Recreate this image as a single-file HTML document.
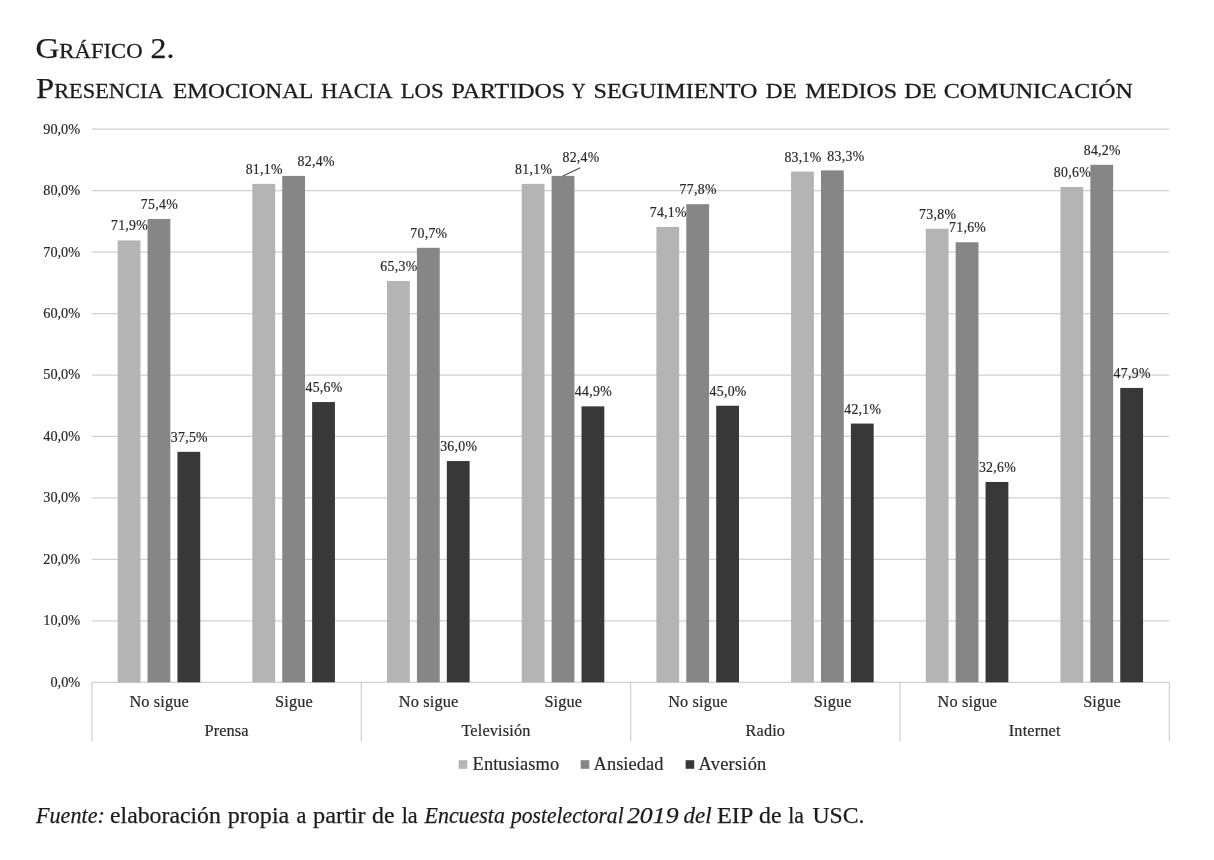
<!DOCTYPE html>
<html lang="es"><head><meta charset="utf-8"><title>Gráfico 2</title>
<style>
html,body{margin:0;padding:0;background:#fff;}
body{width:1214px;height:860px;overflow:hidden;}
svg{display:block;}
text{font-family:"Liberation Serif","Times New Roman",serif;}
.ax,.dl,.cat,.leg{stroke:#2a2a2a;stroke-width:0.2px;}
.ax{font-size:14.30px;fill:#2a2a2a;text-anchor:end;}
.dl{font-size:13.80px;fill:#2a2a2a;text-anchor:middle;letter-spacing:0.3px;}
.cat{font-size:16.30px;fill:#2a2a2a;text-anchor:middle;letter-spacing:0.15px;}
.leg{font-size:18.40px;fill:#2a2a2a;}
.ttl{fill:#1c1c1c;stroke:#1c1c1c;stroke-width:0.25px;}
.sc{font-size:20.0px;stroke:#1c1c1c;stroke-width:0.28px;}
</style></head><body>
<svg width="1214" height="860" viewBox="0 0 1214 860">
<rect width="1214" height="860" fill="#ffffff"/>
<text class="ttl" id="t1a" x="35.44" y="57.70" font-size="29.20" textLength="107.21" lengthAdjust="spacingAndGlyphs">G<tspan class="sc">RÁFICO</tspan></text>
<text class="ttl" id="t1b" x="150.63" y="57.70" font-size="29.20" textLength="23.81" lengthAdjust="spacingAndGlyphs">2.</text>
<text class="ttl" id="t2a" x="36.05" y="97.60" font-size="29.20" textLength="127.48" lengthAdjust="spacingAndGlyphs">P<tspan class="sc">RESENCIA</tspan></text>
<text class="ttl" id="t2b" x="172.99" y="97.60" font-size="29.20" textLength="140.44" lengthAdjust="spacingAndGlyphs"><tspan class="sc">EMOCIONAL</tspan></text>
<text class="ttl" id="t2c" x="321.17" y="97.60" font-size="29.20" textLength="71.24" lengthAdjust="spacingAndGlyphs"><tspan class="sc">HACIA</tspan></text>
<text class="ttl" id="t2d" x="400.68" y="97.60" font-size="29.20" textLength="42.98" lengthAdjust="spacingAndGlyphs"><tspan class="sc">LOS</tspan></text>
<text class="ttl" id="t2e" x="451.62" y="97.60" font-size="29.20" textLength="113.51" lengthAdjust="spacingAndGlyphs"><tspan class="sc">PARTIDOS</tspan></text>
<text class="ttl" id="t2f" x="571.89" y="97.60" font-size="29.20" textLength="13.60" lengthAdjust="spacingAndGlyphs"><tspan class="sc">Y</tspan></text>
<text class="ttl" id="t2g" x="593.52" y="97.60" font-size="29.20" textLength="163.85" lengthAdjust="spacingAndGlyphs"><tspan class="sc">SEGUIMIENTO</tspan></text>
<text class="ttl" id="t2h" x="765.84" y="97.60" font-size="29.20" textLength="30.96" lengthAdjust="spacingAndGlyphs"><tspan class="sc">DE</tspan></text>
<text class="ttl" id="t2i" x="805.22" y="97.60" font-size="29.20" textLength="91.80" lengthAdjust="spacingAndGlyphs"><tspan class="sc">MEDIOS</tspan></text>
<text class="ttl" id="t2j" x="904.39" y="97.60" font-size="29.20" textLength="32.25" lengthAdjust="spacingAndGlyphs"><tspan class="sc">DE</tspan></text>
<text class="ttl" id="t2k" x="943.88" y="97.60" font-size="29.20" textLength="188.99" lengthAdjust="spacingAndGlyphs"><tspan class="sc">COMUNICACIÓN</tspan></text>
<text class="ttl" id="c01" x="36.04" y="823.30" font-size="23.00" font-style="italic" textLength="68.80" lengthAdjust="spacingAndGlyphs">Fuente:</text>
<text class="ttl" id="c02" x="110.06" y="823.30" font-size="23.00" textLength="110.77" lengthAdjust="spacingAndGlyphs">elaboración</text>
<text class="ttl" id="c03" x="227.77" y="823.30" font-size="23.00" textLength="61.49" lengthAdjust="spacingAndGlyphs">propia</text>
<text class="ttl" id="c04" x="296.40" y="823.30" font-size="23.00" textLength="9.91" lengthAdjust="spacingAndGlyphs">a</text>
<text class="ttl" id="c05" x="312.97" y="823.30" font-size="23.00" textLength="52.67" lengthAdjust="spacingAndGlyphs">partir</text>
<text class="ttl" id="c06" x="372.02" y="823.30" font-size="23.00" textLength="22.52" lengthAdjust="spacingAndGlyphs">de</text>
<text class="ttl" id="c07" x="401.66" y="823.30" font-size="23.00" textLength="16.09" lengthAdjust="spacingAndGlyphs">la</text>
<text class="ttl" id="c08" x="424.58" y="823.30" font-size="23.00" font-style="italic" textLength="80.26" lengthAdjust="spacingAndGlyphs">Encuesta</text>
<text class="ttl" id="c09" x="511.06" y="823.30" font-size="23.00" font-style="italic" textLength="112.60" lengthAdjust="spacingAndGlyphs">postelectoral</text>
<text class="ttl" id="c10" x="626.97" y="823.30" font-size="23.00" font-style="italic" textLength="51.58" lengthAdjust="spacingAndGlyphs">2019</text>
<text class="ttl" id="c11" x="683.50" y="823.30" font-size="23.00" font-style="italic" textLength="28.20" lengthAdjust="spacingAndGlyphs">del</text>
<text class="ttl" id="c12" x="716.90" y="823.30" font-size="23.00" textLength="36.51" lengthAdjust="spacingAndGlyphs">EIP</text>
<text class="ttl" id="c13" x="759.13" y="823.30" font-size="23.00" textLength="22.50" lengthAdjust="spacingAndGlyphs">de</text>
<text class="ttl" id="c14" x="788.26" y="823.30" font-size="23.00" textLength="15.69" lengthAdjust="spacingAndGlyphs">la</text>
<text class="ttl" id="c15" x="812.43" y="823.30" font-size="23.00" textLength="52.05" lengthAdjust="spacingAndGlyphs">USC.</text>
<g stroke="#d0d0d0" stroke-width="1.25" fill="none">
<line x1="91.9" y1="682.30" x2="1169.4" y2="682.30"/>
<line x1="91.9" y1="620.84" x2="1169.4" y2="620.84"/>
<line x1="91.9" y1="559.39" x2="1169.4" y2="559.39"/>
<line x1="91.9" y1="497.93" x2="1169.4" y2="497.93"/>
<line x1="91.9" y1="436.48" x2="1169.4" y2="436.48"/>
<line x1="91.9" y1="375.02" x2="1169.4" y2="375.02"/>
<line x1="91.9" y1="313.57" x2="1169.4" y2="313.57"/>
<line x1="91.9" y1="252.11" x2="1169.4" y2="252.11"/>
<line x1="91.9" y1="190.66" x2="1169.4" y2="190.66"/>
<line x1="91.9" y1="129.20" x2="1169.4" y2="129.20"/>
<line x1="91.90" y1="682.30" x2="91.90" y2="741.30"/>
<line x1="361.27" y1="682.30" x2="361.27" y2="741.30"/>
<line x1="630.65" y1="682.30" x2="630.65" y2="741.30"/>
<line x1="900.02" y1="682.30" x2="900.02" y2="741.30"/>
<line x1="1169.40" y1="682.30" x2="1169.40" y2="741.30"/>
</g>
<text class="ax" x="80.2" y="686.75">0,0%</text>
<text class="ax" x="80.2" y="625.29">10,0%</text>
<text class="ax" x="80.2" y="563.84">20,0%</text>
<text class="ax" x="80.2" y="502.38">30,0%</text>
<text class="ax" x="80.2" y="440.93">40,0%</text>
<text class="ax" x="80.2" y="379.47">50,0%</text>
<text class="ax" x="80.2" y="318.02">60,0%</text>
<text class="ax" x="80.2" y="256.56">70,0%</text>
<text class="ax" x="80.2" y="195.11">80,0%</text>
<text class="ax" x="80.2" y="133.65">90,0%</text>
<rect x="117.64" y="240.43" width="22.80" height="441.87" fill="#b4b4b4"/>
<rect x="147.54" y="218.93" width="22.80" height="463.37" fill="#868686"/>
<rect x="177.44" y="451.84" width="22.80" height="230.46" fill="#383838"/>
<rect x="252.33" y="183.90" width="22.80" height="498.40" fill="#b4b4b4"/>
<rect x="282.23" y="175.91" width="22.80" height="506.39" fill="#868686"/>
<rect x="312.13" y="402.06" width="22.80" height="280.24" fill="#383838"/>
<rect x="387.02" y="281.00" width="22.80" height="401.30" fill="#b4b4b4"/>
<rect x="416.92" y="247.81" width="22.80" height="434.49" fill="#868686"/>
<rect x="446.82" y="461.06" width="22.80" height="221.24" fill="#383838"/>
<rect x="521.71" y="183.90" width="22.80" height="498.40" fill="#b4b4b4"/>
<rect x="551.61" y="175.91" width="22.80" height="506.39" fill="#868686"/>
<rect x="581.51" y="406.36" width="22.80" height="275.94" fill="#383838"/>
<rect x="656.39" y="226.91" width="22.80" height="455.39" fill="#b4b4b4"/>
<rect x="686.29" y="204.18" width="22.80" height="478.12" fill="#868686"/>
<rect x="716.19" y="405.75" width="22.80" height="276.55" fill="#383838"/>
<rect x="791.08" y="171.60" width="22.80" height="510.70" fill="#b4b4b4"/>
<rect x="820.98" y="170.38" width="22.80" height="511.92" fill="#868686"/>
<rect x="850.88" y="423.57" width="22.80" height="258.73" fill="#383838"/>
<rect x="925.77" y="228.76" width="22.80" height="453.54" fill="#b4b4b4"/>
<rect x="955.67" y="242.28" width="22.80" height="440.02" fill="#868686"/>
<rect x="985.57" y="481.95" width="22.80" height="200.35" fill="#383838"/>
<rect x="1060.46" y="186.97" width="22.80" height="495.33" fill="#b4b4b4"/>
<rect x="1090.36" y="164.84" width="22.80" height="517.46" fill="#868686"/>
<rect x="1120.26" y="387.93" width="22.80" height="294.37" fill="#383838"/>
<line x1="562.9" y1="175.9" x2="580.3" y2="167.7" stroke="#4a4a4a" stroke-width="1.1"/>
<text class="dl" x="129.54" y="230.43">71,9%</text>
<text class="dl" x="159.44" y="208.93">75,4%</text>
<text class="dl" x="189.34" y="441.84">37,5%</text>
<text class="dl" x="264.23" y="173.90">81,1%</text>
<text class="dl" x="316.13" y="165.91">82,4%</text>
<text class="dl" x="324.03" y="392.06">45,6%</text>
<text class="dl" x="398.92" y="271.00">65,3%</text>
<text class="dl" x="428.82" y="237.81">70,7%</text>
<text class="dl" x="458.72" y="451.06">36,0%</text>
<text class="dl" x="533.61" y="173.90">81,1%</text>
<text class="dl" x="581.01" y="162.21">82,4%</text>
<text class="dl" x="593.41" y="396.36">44,9%</text>
<text class="dl" x="668.29" y="216.91">74,1%</text>
<text class="dl" x="698.19" y="194.18">77,8%</text>
<text class="dl" x="728.09" y="395.75">45,0%</text>
<text class="dl" x="802.98" y="161.60">83,1%</text>
<text class="dl" x="845.88" y="160.88">83,3%</text>
<text class="dl" x="862.78" y="413.57">42,1%</text>
<text class="dl" x="937.67" y="218.76">73,8%</text>
<text class="dl" x="967.57" y="232.28">71,6%</text>
<text class="dl" x="997.47" y="471.95">32,6%</text>
<text class="dl" x="1072.36" y="176.97">80,6%</text>
<text class="dl" x="1102.26" y="154.84">84,2%</text>
<text class="dl" x="1132.16" y="377.93">47,9%</text>
<text class="cat" x="159.24" y="707.2">No sigue</text>
<text class="cat" x="293.93" y="707.2">Sigue</text>
<text class="cat" x="428.62" y="707.2">No sigue</text>
<text class="cat" x="563.31" y="707.2">Sigue</text>
<text class="cat" x="697.99" y="707.2">No sigue</text>
<text class="cat" x="832.68" y="707.2">Sigue</text>
<text class="cat" x="967.37" y="707.2">No sigue</text>
<text class="cat" x="1102.06" y="707.2">Sigue</text>
<text class="cat" x="226.59" y="735.9">Prensa</text>
<text class="cat" x="495.96" y="735.9">Televisión</text>
<text class="cat" x="765.34" y="735.9">Radio</text>
<text class="cat" x="1034.71" y="735.9">Internet</text>
<rect x="458.7" y="760.2" width="8.6" height="8.6" fill="#b4b4b4"/>
<text class="leg" x="472.6" y="769.7" textLength="86.5" lengthAdjust="spacing">Entusiasmo</text>
<rect x="580.7" y="760.2" width="8.6" height="8.6" fill="#868686"/>
<text class="leg" x="593.6" y="769.7" textLength="69.8" lengthAdjust="spacing">Ansiedad</text>
<rect x="685.6" y="760.2" width="8.6" height="8.6" fill="#383838"/>
<text class="leg" x="698.6" y="769.7" textLength="67.7" lengthAdjust="spacing">Aversión</text>
</svg>
</body></html>
